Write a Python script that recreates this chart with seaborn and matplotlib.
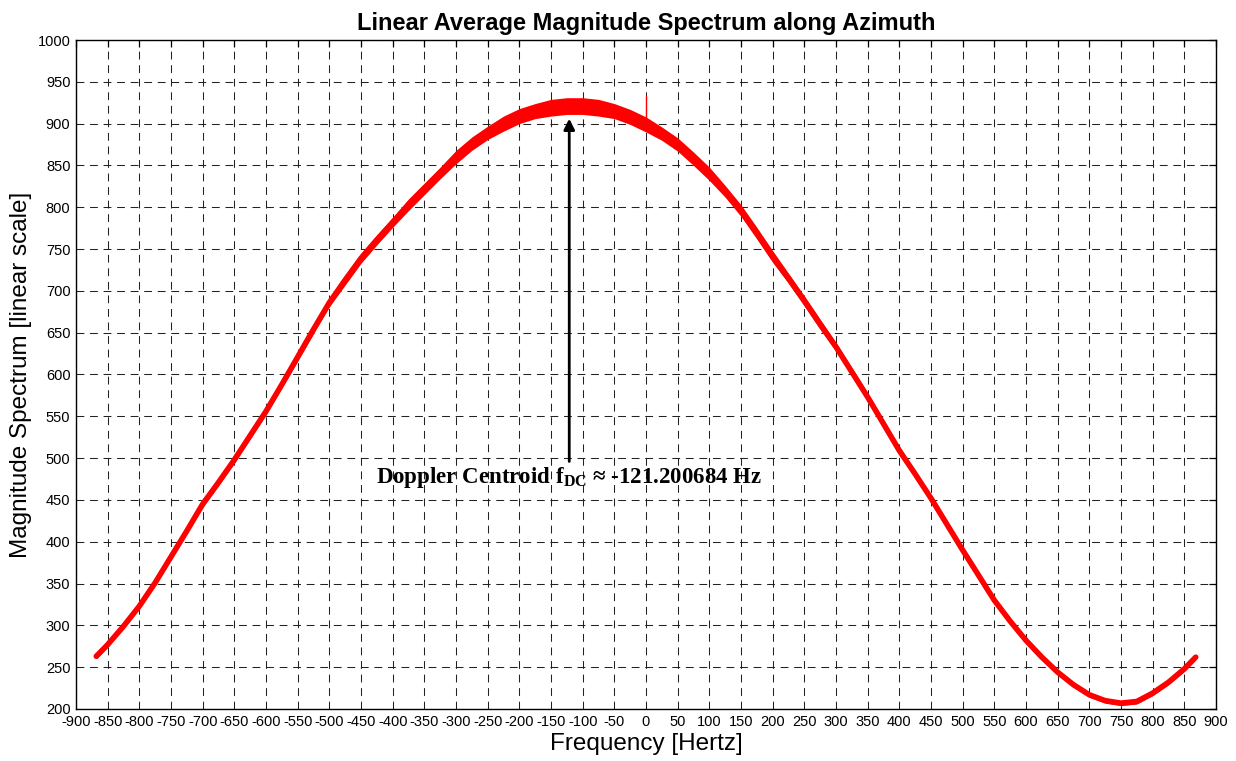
import matplotlib
matplotlib.use("Agg")
import matplotlib.pyplot as plt
import seaborn as sns
import numpy as np
import pandas as pd

# ---- data ----
freq_hz = [-868, -850, -825, -800, -775, -750, -725, -700, -675, -650, -625, -600,
           -575, -550, -525, -500, -475, -450, -425, -400, -375, -350, -325, -300,
           -275, -250, -225, -200, -175, -150, -125, -100, -75, -50, -25, 0,
           25, 50, 75, 100, 125, 150, 175, 200, 225, 250, 275, 300,
           325, 350, 375, 400, 425, 450, 475, 500, 525, 550, 575, 600,
           625, 650, 675, 700, 725, 750, 775, 800, 825, 850, 868]
magnitude = [263, 277, 299, 323, 351, 382, 413, 445, 471, 498, 527, 556,
             588, 621, 654, 686, 713, 739, 761, 782, 803, 822, 841, 860,
             876, 889, 900, 909, 915, 919, 921, 921, 919, 915, 908, 899,
             888, 875, 858, 840, 819, 796, 769, 741, 715, 688, 660, 633,
             603, 573, 541, 509, 481, 452, 421, 390, 360, 330, 305, 282,
             262, 244, 229, 217, 210, 207, 209, 219, 232, 248, 262]
# half-width of the noise band around the curve (value units)
noise_half = [3, 3, 3, 3, 3, 3, 3, 4, 4, 4, 4, 4,
              4, 5, 5, 5, 6, 6, 6, 6, 7, 7, 7, 8,
              8, 8, 9, 9, 9, 10, 10, 10, 10, 9, 9, 9,
              8, 8, 8, 8, 7, 7, 7, 7, 6, 6, 6, 5,
              5, 5, 5, 5, 4, 4, 4, 4, 4, 3, 3, 3,
              3, 3, 3, 3, 3, 3, 3, 3, 3, 3, 3]
spike_freq = [0, 0]
spike_mag = [905, 933]

doppler_centroid = -121.200684
arrow_tail = 496
arrow_head = 906

x_ticks = list(range(-900, 901, 50))
y_ticks = list(range(200, 1001, 50))

title = "Linear Average Magnitude Spectrum along Azimuth"
xlabel = "Frequency [Hertz]"
ylabel = "Magnitude Spectrum [linear scale]"

df = pd.DataFrame({"freq": freq_hz, "mag": magnitude, "band": noise_half})

# ---- styling ----
sns.set_theme(style="white")
plt.rcParams["font.family"] = ["Liberation Sans", "DejaVu Sans"]
plt.rcParams["text.color"] = "black"
plt.rcParams["axes.labelcolor"] = "black"
plt.rcParams["xtick.color"] = "black"
plt.rcParams["ytick.color"] = "black"
plt.rcParams["mathtext.fontset"] = "custom"
plt.rcParams["mathtext.rm"] = "Liberation Serif:bold"
plt.rcParams["mathtext.bf"] = "Liberation Serif:bold"

fig = plt.figure(figsize=(12.36, 7.61), dpi=100)
fig.patch.set_facecolor("white")
ax = fig.add_axes([76 / 1236, 52 / 761, 1140 / 1236, 669 / 761])
ax.set_facecolor("white")

ax.fill_between(df["freq"], df["mag"] - df["band"], df["mag"] + df["band"],
                color="#ff0000", lw=0, zorder=3)
sns.lineplot(data=df, x="freq", y="mag", color="#ff0000", lw=4.0, ax=ax,
             zorder=3, sort=False)
ax.plot(spike_freq, spike_mag, color="#ff0000", lw=1.0, zorder=3)

ax.set_xlim(-900, 900)
ax.set_ylim(200, 1000)
ax.set_xticks(x_ticks)
ax.set_yticks(y_ticks)
ax.set_xticklabels([str(t) for t in x_ticks])
ax.set_yticklabels([str(t) for t in y_ticks])

ax.grid(True, color="#222222", linestyle=(0, (7.5, 5.5)), linewidth=0.75, zorder=1)
ax.tick_params(direction="in", top=True, right=True, length=5, width=0.9,
               labelsize=10.5, colors="black", pad=4)
for s in ax.spines.values():
    s.set_color("black")
    s.set_linewidth(1.0)
    s.set_zorder(5)

ax.set_title(title, fontsize=17, fontweight="bold", pad=7, color="black")
ax.set_xlabel(xlabel, fontsize=17.5, labelpad=3, color="black")
ax.set_ylabel(ylabel, fontsize=17.5, labelpad=4, color="black")

ax.annotate("", xy=(doppler_centroid, arrow_head), xytext=(doppler_centroid, arrow_tail),
            arrowprops=dict(arrowstyle="-|>", color="black", lw=2.0,
                            mutation_scale=16, shrinkA=0, shrinkB=0), zorder=6)
ax.text(doppler_centroid, 470,
        "Doppler Centroid f$_{\\mathrm{DC}}$ \u2248 -121.200684 Hz",
        ha="center", va="baseline", fontsize=16.5, fontweight="bold", color="black",
        family=["Liberation Serif", "DejaVu Serif"], zorder=6)

fig.savefig("out.png", dpi=100, facecolor="white")
